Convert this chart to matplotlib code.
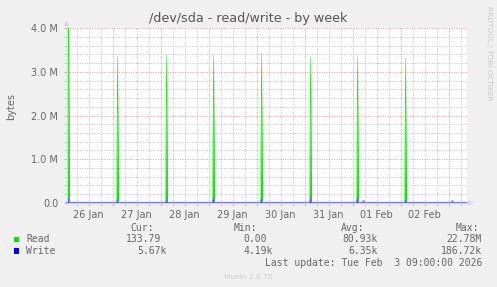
import numpy as np
import matplotlib
matplotlib.use('Agg')
import matplotlib.pyplot as plt
from matplotlib.patches import Rectangle, Polygon
from matplotlib.lines import Line2D
from matplotlib.ticker import FixedLocator

# week window: hours since Mon 26 Jan 01:00, 30 min samples
span_hours = 200.0
day_labels = ['26 Jan', '27 Jan', '28 Jan', '29 Jan', '30 Jan', '31 Jan', '01 Feb', '02 Feb']
label_hours = [11, 35, 59, 83, 107, 131, 155, 179]
midnight_hours = [23, 47, 71, 95, 119, 143, 167, 191]

# nightly spikes (bytes, 30 min averages)
read_spike_hours = [1.0, 25.5, 50.0, 73.5, 97.5, 122.0, 145.5, 169.5]
read_spike_bytes = [5.0e6, 3.35e6, 3.39e6, 3.39e6, 3.43e6, 3.35e6, 3.35e6, 3.32e6]
write_spike_hours = [1.0, 25.5, 50.0, 73.5, 97.5, 122.0, 145.5, 148.5, 169.5, 193.0]
write_spike_bytes = [90e3, 60e3, 70e3, 110e3, 90e3, 100e3, 110e3, 45e3, 50e3, 45e3]
read_base = 0.0
write_base = 5.0e3

ytick_vals = [0, 1e6, 2e6, 3e6, 4e6]
ytick_labels = ['0.0', '1.0 M', '2.0 M', '3.0 M', '4.0 M']

stat_headers = ['Cur:', 'Min:', 'Avg:', 'Max:']
read_stats = ['133.79', '0.00', '80.93k', '22.78M']
write_stats = ['5.67k', '4.19k', '6.35k', '186.72k']
last_update = 'Last update: Tue Feb  3 09:00:00 2026'

GREEN = '#00e800'
BLUE = '#0000ff'
FG = '#666666'
W, H = 497, 287


def px(x, y):
  return x / W, 1 - y / H


t = np.arange(0, span_hours + 0.5, 0.5)
read = np.full(t.size, read_base)
write = np.full(t.size, write_base)
for h, v in zip(read_spike_hours, read_spike_bytes):
  read[int(round(h * 2))] = v
for h, v in zip(write_spike_hours, write_spike_bytes):
  write[int(round(h * 2))] = v

fig = plt.figure(figsize=(W / 100, H / 100), dpi=100, facecolor='#f0f0f0')
L, R, T, B = 66.5, 466.5, 28.3, 202.7
ax = fig.add_axes([L / W, 1 - B / H, (R - L) / W, (B - T) / H])
ax.set_facecolor('white')
for s in ax.spines.values():
  s.set_visible(False)
ax.set_xlim(0, span_hours)
ax.set_ylim(0, 4e6)

# grid: gray dotted minor, red dotted major
minor_x = [h for h in np.arange(5, span_hours, 6) if h not in midnight_hours]
ax.xaxis.set_major_locator(FixedLocator(midnight_hours))
ax.xaxis.set_minor_locator(FixedLocator(minor_x))
ax.yaxis.set_major_locator(FixedLocator(ytick_vals))
ax.yaxis.set_minor_locator(FixedLocator(np.arange(0.2e6, 4e6, 0.2e6)))
ax.set_yticklabels(ytick_labels)
ax.set_xticklabels([])
dots = (0, (1, 1.2))
ax.grid(which='minor', color='#c8c8c8', lw=0.8, ls=dots)
ax.grid(which='major', color='#eba6a6', lw=0.8, ls=dots)
ax.set_axisbelow(True)
ax.tick_params(which='major', length=2, width=0.72, color='#eba6a6', labelsize=7, labelcolor=FG, pad=4)
ax.tick_params(which='minor', length=2, width=0.72, color='#c8c8c8')

sec = ax.secondary_xaxis('bottom')
sec.set_xticks(label_hours, day_labels)
sec.tick_params(length=0, labelsize=7, labelcolor=FG, pad=5)
for s in sec.spines.values():
  s.set_visible(False)

# axis arrows (light lavender)
axc = '#cfd6f8'
fig.add_artist(Line2D([L / W, L / W], [1 - B / H, 1 - 24 / H], color=axc, lw=0.8))
fig.add_artist(Polygon([px(L - 2.5, 26), px(L + 2.5, 26), px(L, 20)], closed=True, fc=axc, ec='none'))
fig.add_artist(Line2D([L / W, 470 / W], [1 - B / H, 1 - B / H], color=axc, lw=0.8))
fig.add_artist(Polygon([px(468, B - 2.5), px(468, B + 2.5), px(474, B)], closed=True, fc=axc, ec='none'))

# data
ax.fill_between(t, read, color=GREEN, lw=0)
ax.plot(t, read, color=GREEN, lw=0.3)
ax.fill_between(t, write, color=BLUE, lw=0)
ax.plot(t, write, color='#7676f2', lw=0.9, clip_on=False)

fig.text(*px(11, 107), 'bytes', rotation=90, ha='center', va='center', fontsize=7, color=FG)
fig.text(*px(248.5, 18.5), '/dev/sda - read/write - by week', ha='center', va='center', fontsize=9.2, color='#555555')
fig.text(*px(488.5, 53), 'RRDTOOL / TOBI OETIKER', rotation=270, ha='center', va='center', fontsize=5.3, color='#c8c8c8')
fig.text(*px(248, 277), 'Munin 2.0.75', ha='center', va='center', fontsize=5.3, color='#cccccc')

# legend
mono = dict(family='DejaVu Sans Mono', fontsize=7, color=FG, va='center')
cw = 5.9
header_right = [154, 257, 364, 479]
col_right = [167, 272.7, 378, 482]
for txt, x in zip(stat_headers, header_right):
  fig.text(*px(x, 228), txt, ha='right', **mono)
for name, vals, col, y in (('Read', read_stats, GREEN, 239.5), ('Write', write_stats, BLUE, 251)):
  fig.add_artist(Rectangle(px(14, y + 2.5), 5.3 / W, 5.3 / H, transform=fig.transFigure, fc=col, ec='none'))
  fig.text(*px(26, y), name, ha='left', **mono)
  for v, x in zip(vals, col_right):
    if v[-1].isdigit():
      x -= cw
    fig.text(*px(x, y), v, ha='right', **mono)
fig.text(*px(482, 263.5), last_update, ha='right', **mono)

fig.savefig('out.png', dpi=100, facecolor=fig.get_facecolor())
